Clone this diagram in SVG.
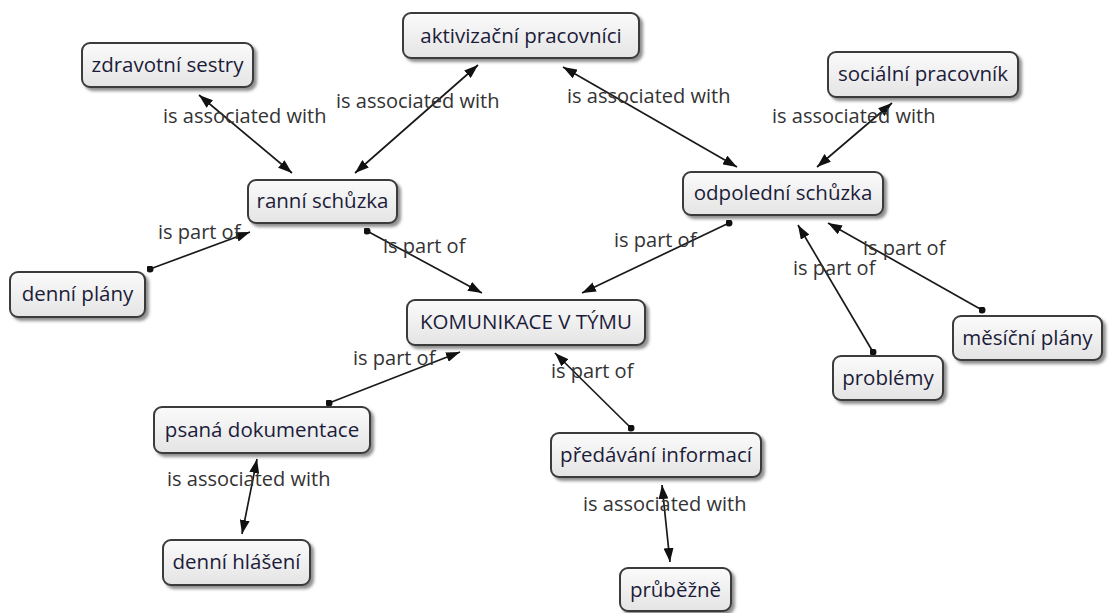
<svg xmlns="http://www.w3.org/2000/svg" width="1110" height="613" viewBox="0 0 1110 613">
<style>
.n rect{fill:url(#g);stroke:#3a3a3a;stroke-width:2;filter:url(#sh)}
.n text{font-family:"Open Sans","DejaVu Sans",sans-serif;font-size:20.5px;fill:#1c1c3a;text-anchor:middle}
.c line{stroke:#1a1a1a;stroke-width:1.7}
.a{marker-end:url(#ar)}
.d{marker-start:url(#ar2);marker-end:url(#ar)}
.p{marker-start:url(#dot);marker-end:url(#ar)}
.l{font-family:"Open Sans","DejaVu Sans",sans-serif;font-size:20px;fill:#333}
</style>
<defs>
<linearGradient id="g" x1="0" y1="0" x2="0" y2="1"><stop offset="0" stop-color="#fbfbfb"/><stop offset="1" stop-color="#e4e4e4"/></linearGradient>
<filter id="sh" x="-10%" y="-20%" width="125%" height="150%"><feDropShadow dx="3" dy="3" stdDeviation="1.5" flood-color="#444" flood-opacity="0.6"/></filter>
<marker id="ar" viewBox="0 0 14 10" refX="14" refY="5" markerWidth="14" markerHeight="10" markerUnits="userSpaceOnUse" orient="auto"><path d="M0,0 L14,5 L0,10 z" fill="#111"/></marker>
<marker id="ar2" viewBox="0 0 14 10" refX="14" refY="5" markerWidth="14" markerHeight="10" markerUnits="userSpaceOnUse" orient="auto-start-reverse"><path d="M0,0 L14,5 L0,10 z" fill="#111"/></marker>
<marker id="dot" viewBox="0 0 8 8" refX="4" refY="4" markerWidth="7" markerHeight="7" markerUnits="userSpaceOnUse"><circle cx="4" cy="4" r="4" fill="#111"/></marker>
</defs>
<g id="connectors" class="c">
<line class="d" x1="199" y1="95" x2="292" y2="173"/>
<line class="d" x1="478" y1="65" x2="355" y2="173"/>
<line class="d" x1="563" y1="67" x2="737" y2="167"/>
<line class="d" x1="892" y1="103" x2="817" y2="167"/>
<line class="p" x1="150" y1="269" x2="250" y2="232"/>
<line class="p" x1="367" y1="231" x2="482" y2="293"/>
<line class="p" x1="729" y1="223" x2="582" y2="293"/>
<line class="p" x1="873" y1="352" x2="798" y2="225"/>
<line class="p" x1="982" y1="310" x2="828" y2="223"/>
<line class="p" x1="329" y1="403" x2="460" y2="352"/>
<line class="p" x1="631" y1="428" x2="555" y2="353"/>
<line class="d" x1="257" y1="459" x2="242" y2="534"/>
<line class="d" x1="662" y1="485" x2="670" y2="562"/>
</g>
<g id="labels">
<text class="l" x="163" y="123">is associated with</text>
<text class="l" x="336" y="108">is associated with</text>
<text class="l" x="567" y="103">is associated with</text>
<text class="l" x="772" y="123">is associated with</text>
<text class="l" x="158" y="239">is part of</text>
<text class="l" x="383" y="253">is part of</text>
<text class="l" x="614" y="247">is part of</text>
<text class="l" x="793" y="275">is part of</text>
<text class="l" x="863" y="255">is part of</text>
<text class="l" x="353" y="365">is part of</text>
<text class="l" x="551" y="378">is part of</text>
<text class="l" x="167" y="486">is associated with</text>
<text class="l" x="583" y="511">is associated with</text>
</g>
<g id="n1" class="n"><rect x="82" y="43" width="171" height="44" rx="8"/><text x="167.5" y="72">zdravotní sestry</text></g>
<g id="n2" class="n"><rect x="403" y="13" width="236" height="45" rx="8"/><text x="521" y="43">aktivizační pracovníci</text></g>
<g id="n3" class="n"><rect x="248" y="180" width="149" height="43" rx="8"/><text x="322.5" y="208">ranní schůzka</text></g>
<g id="n4" class="n"><rect x="828" y="52" width="190" height="45" rx="8"/><text x="923" y="81">sociální pracovník</text></g>
<g id="n5" class="n"><rect x="683" y="172" width="200" height="43" rx="8"/><text x="783" y="200">odpolední schůzka</text></g>
<g id="n6" class="n"><rect x="10" y="272" width="135" height="45" rx="8"/><text x="77.5" y="301">denní plány</text></g>
<g id="n7" class="n"><rect x="407" y="300" width="238" height="45" rx="8"/><text x="526" y="329">KOMUNIKACE V TÝMU</text></g>
<g id="n8" class="n"><rect x="953" y="316" width="149" height="44" rx="8"/><text x="1027.5" y="345">měsíční plány</text></g>
<g id="n9" class="n"><rect x="833" y="356" width="110" height="44" rx="8"/><text x="888" y="385">problémy</text></g>
<g id="n10" class="n"><rect x="154" y="407" width="216" height="46" rx="8"/><text x="262" y="437">psaná dokumentace</text></g>
<g id="n11" class="n"><rect x="163" y="540" width="147" height="45" rx="8"/><text x="236.5" y="569">denní hlášení</text></g>
<g id="n12" class="n"><rect x="551" y="433" width="210" height="44" rx="8"/><text x="656" y="462">předávání informací</text></g>
<g id="n13" class="n"><rect x="620" y="568" width="111" height="43" rx="8"/><text x="675.5" y="597">průběžně</text></g>
</svg>
